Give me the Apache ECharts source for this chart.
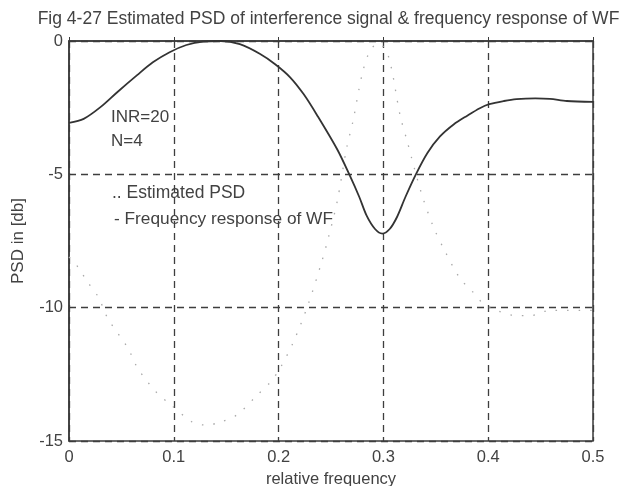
<!DOCTYPE html>
<html>
<head>
<meta charset="utf-8">
<script src="https://cdn.jsdelivr.net/npm/echarts@6/dist/echarts.min.js"></script>
<style>
html,body{margin:0;padding:0;background:#fff;}
#chart{width:626px;height:486px;}
</style>
</head>
<body>
<div id="chart"></div>
<script>
// Frequency response of WF (solid)
var wfX = [0, 0.014, 0.03, 0.046, 0.065, 0.08, 0.096, 0.112, 0.128, 0.145, 0.163, 0.182, 0.197, 0.211, 0.224, 0.237, 0.256, 0.268, 0.277, 0.284, 0.292, 0.299, 0.306, 0.313, 0.321, 0.331, 0.342, 0.354, 0.367, 0.38, 0.392, 0.401, 0.415, 0.427, 0.445, 0.459, 0.475, 0.5];
var wfY = [-3.07, -2.92, -2.48, -1.92, -1.28, -0.8, -0.42, -0.15, -0.02, 0, -0.12, -0.48, -0.88, -1.36, -2.0, -2.8, -4.07, -5.05, -5.85, -6.55, -7.05, -7.22, -7.05, -6.6, -5.85, -5.0, -4.2, -3.58, -3.13, -2.8, -2.52, -2.37, -2.25, -2.18, -2.15, -2.17, -2.25, -2.28];
// Estimated PSD (dotted)
var psdX = [0, 0.009, 0.017, 0.028, 0.037, 0.056, 0.066, 0.084, 0.096, 0.118, 0.13, 0.144, 0.161, 0.179, 0.192, 0.201, 0.214, 0.228, 0.241, 0.248, 0.256, 0.265, 0.271, 0.28, 0.288, 0.296, 0.305, 0.316, 0.323, 0.327, 0.337, 0.348, 0.359, 0.373, 0.385, 0.394, 0.408, 0.427, 0.44, 0.459, 0.475, 0.5];
var psdY = [-8.1, -8.5, -9.0, -9.6, -10.4, -11.5, -12.3, -13.2, -13.6, -14.3, -14.4, -14.3, -14.0, -13.3, -12.8, -12.3, -11.3, -9.9, -8.3, -7.3, -6.0, -4.0, -3.0, -1.2, -0.3, -0.1, -0.6, -2.8, -3.8, -4.4, -5.8, -7.0, -7.9, -8.9, -9.4, -9.8, -10.1, -10.3, -10.3, -10.1, -10.1, -10.1];
var xTicks = [0, 0.1, 0.2, 0.3, 0.4, 0.5];
var yTicks = [0, -5, -10, -15];
var titleText = 'Fig 4-27 Estimated PSD of interference signal & frequency response of WF';
var notes = ['INR=20', 'N=4'];
var legendTexts = ['.. Estimated PSD', '- Frequency response of WF'];

function pairs(xs, ys) { return xs.map(function (x, i) { return [x, ys[i]]; }); }

var FONT = '"Liberation Sans", Arial, sans-serif';
var ink = '#3a3a3a';
var txt = '#424242';

var chart = echarts.init(document.getElementById('chart'));
chart.setOption({
  backgroundColor: '#fff',
  animation: false,
  grid: {
    left: 69, right: 33, top: 41, bottom: 45,
    outerBoundsMode: 'none', containLabel: false,
    show: true, borderColor: ink, borderWidth: 1.5, backgroundColor: 'transparent'
  },
  xAxis: {
    type: 'value', min: xTicks[0], max: xTicks[xTicks.length - 1], interval: 0.1,
    name: 'relative frequency', nameLocation: 'middle', nameGap: 29,
    nameTextStyle: { fontFamily: FONT, fontSize: 16.5, color: txt },
    axisLine: { show: true, lineStyle: { color: ink, width: 1.5 } },
    axisTick: { show: true, inside: true, length: 4, lineStyle: { color: ink } },
    axisLabel: { fontFamily: FONT, fontSize: 16.5, color: txt, margin: 8 },
    splitLine: { show: true, lineStyle: { color: '#3e3e3e', width: 1.3, type: [7, 5] } }
  },
  yAxis: {
    type: 'value', min: yTicks[yTicks.length - 1], max: yTicks[0], interval: 5,
    name: 'PSD in [db]', nameLocation: 'middle', nameGap: 42,
    nameTextStyle: { fontFamily: FONT, fontSize: 17, color: txt },
    axisLine: { show: true, lineStyle: { color: ink, width: 1.5 } },
    axisTick: { show: true, inside: true, length: 4, lineStyle: { color: ink } },
    axisLabel: { fontFamily: FONT, fontSize: 16.5, color: txt, margin: 6 },
    splitLine: { show: true, lineStyle: { color: '#3e3e3e', width: 1.3, type: [7, 5] } }
  },
  series: [
    {
      name: 'Estimated PSD', type: 'line', data: pairs(psdX, psdY),
      smooth: 0.3, symbol: 'none',
      lineStyle: { color: '#a8a8a8', width: 1.3, type: [1.5, 10] }
    },
    {
      name: 'Frequency response of WF', type: 'line', data: pairs(wfX, wfY),
      smooth: 0.3, symbol: 'none',
      lineStyle: { color: '#333', width: 1.8 }
    }
  ],
  graphic: [
    { type: 'text', x: 328.5, y: 19, style: { text: titleText, font: '17.5px ' + FONT, fill: txt, textAlign: 'center', textVerticalAlign: 'middle' } },
    { type: 'text', left: 111, top: 109, style: { text: notes[0], font: '17px ' + FONT, fill: txt } },
    { type: 'text', left: 111, top: 133, style: { text: notes[1], font: '17px ' + FONT, fill: txt } },
    { type: 'text', left: 112, top: 184, style: { text: legendTexts[0], font: '17.5px ' + FONT, fill: txt } },
    { type: 'text', left: 114, top: 211, style: { text: legendTexts[1], font: '17.3px ' + FONT, fill: txt } }
  ]
});
</script>
</body>
</html>
